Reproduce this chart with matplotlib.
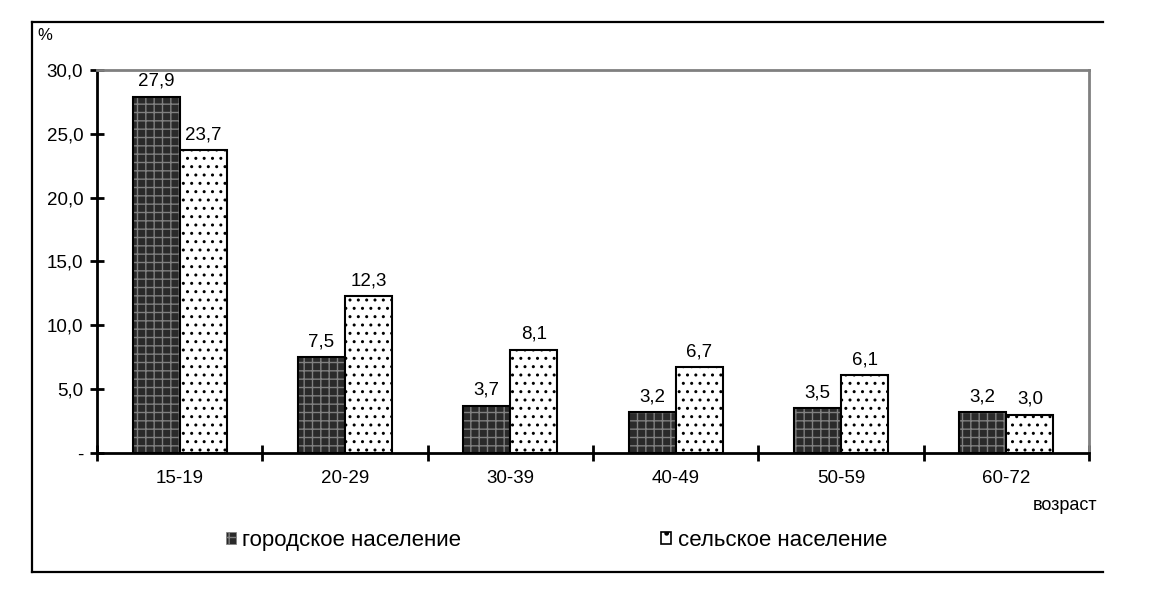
import numpy as np
import matplotlib
matplotlib.use('Agg')
import matplotlib.pyplot as plt
from matplotlib.lines import Line2D
from matplotlib.patches import Patch

plt.rcParams['font.family'] = ['Liberation Sans', 'DejaVu Sans']
plt.rcParams['hatch.linewidth'] = 1.0

ages = ['15-19', '20-29', '30-39', '40-49', '50-59', '60-72']
urban = [27.9, 7.5, 3.7, 3.2, 3.5, 3.2]
rural = [23.7, 12.3, 8.1, 6.7, 6.1, 3.0]
y_ticks = [0, 5, 10, 15, 20, 25, 30]
y_tick_labels = ['-', '5,0', '10,0', '15,0', '20,0', '25,0', '30,0']
urban_label = 'городское население'
rural_label = 'сельское население'

DARK = '#2a2a2a'
GRID = '#808080'


def fmt(v):
    return f'{v:.1f}'.replace('.', ',')


fig = plt.figure(figsize=(11.58, 5.92), dpi=100)
ax = fig.add_axes([0.0838, 0.2348, 0.8566, 0.647])

x = np.arange(len(ages))
w = 0.285

# urban: dark fill with lighter grid texture, then black outline
ax.bar(x - w / 2, urban, w, color=DARK, edgecolor=GRID, linewidth=0, hatch='++')
ax.bar(x - w / 2, urban, w, fill=False, edgecolor='black', linewidth=1.5)
# rural: white with dots
ax.bar(x + w / 2, rural, w, color='white', edgecolor='black', linewidth=1.5, hatch='..')

for xi, v in zip(x - w / 2, urban):
    ax.annotate(fmt(v), (xi, v), xytext=(0, 5), textcoords='offset points',
                ha='center', va='bottom', fontsize=13.5)
for xi, v in zip(x + w / 2, rural):
    ax.annotate(fmt(v), (xi, v), xytext=(0, 5), textcoords='offset points',
                ha='center', va='bottom', fontsize=13.5)

ax.set_xlim(-0.5, len(ages) - 0.5)
ax.set_ylim(0, 30)
ax.set_yticks(y_ticks)
ax.set_yticklabels(y_tick_labels)
ax.set_xticks(np.arange(len(ages) + 1) - 0.5)
ax.set_xticklabels([])
ax.set_xticks(x, minor=True)
ax.set_xticklabels(ages, minor=True)
ax.tick_params(axis='y', direction='inout', length=10, width=2, labelsize=13.5, pad=5)
ax.tick_params(axis='x', which='major', direction='inout', length=12, width=2)
ax.tick_params(axis='x', which='minor', length=0, labelsize=13.5, pad=12)

for s in ['left', 'bottom']:
    ax.spines[s].set_linewidth(2)
    ax.spines[s].set_color('black')
for s in ['top', 'right']:
    ax.spines[s].set_linewidth(2)
    ax.spines[s].set_color(GRID)

# outer frame (no right side)
fx0, fx1 = 32 / 1158, 1103 / 1158
fy0, fy1 = 1 - 572 / 592, 1 - 22 / 592
for xs, ys in [([fx0, fx0], [fy0, fy1]), ([fx0, fx1], [fy1, fy1]), ([fx0, fx1], [fy0, fy0])]:
    fig.add_artist(Line2D(xs, ys, color='black', linewidth=1.6, transform=fig.transFigure))

fig.text(37 / 1158, 1 - 36 / 592, '%', fontsize=12, ha='left', va='center')
fig.text(1097 / 1158, 1 - 506 / 592, 'возраст', fontsize=13, ha='right', va='center')

handles = [Patch(facecolor=DARK, edgecolor=GRID, hatch='++', linewidth=0.5),
           Patch(facecolor='white', edgecolor='black', hatch='.', linewidth=1.2)]
fig.legend(handles, [urban_label, rural_label], loc='center', bbox_to_anchor=(0.4806, 0.0878),
           ncol=2, frameon=False, fontsize=16, handlelength=0.45, handleheight=0.45,
           handletextpad=0.3, columnspacing=9.0, borderpad=0)

fig.savefig('out.png', dpi=100)
